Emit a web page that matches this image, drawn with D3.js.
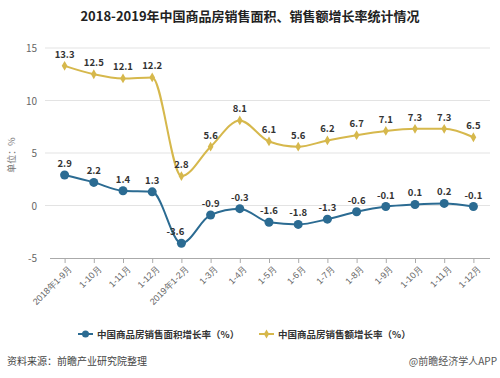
<!DOCTYPE html>
<html>
<head>
<meta charset="utf-8">
<script src="https://cdn.jsdelivr.net/npm/d3@7"></script>
<style>
  body { margin: 0; background: #fff; }
  svg { font-family: "Noto Sans CJK SC", "Noto Sans", sans-serif; }
</style>
</head>
<body>
<svg id="chart" width="500" height="378"></svg>
<script>
const months = ['2018年1-9月', '1-10月', '1-11月', '1-12月', '2019年1-2月', '1-3月', '1-4月', '1-5月',
  '1-6月', '1-7月', '1-8月', '1-9月', '1-10月', '1-11月', '1-12月'];
const areaGrowth = [2.9, 2.2, 1.4, 1.3, -3.6, -0.9, -0.3, -1.6, -1.8, -1.3, -0.6, -0.1, 0.1, 0.2, -0.1];
const salesGrowth = [13.3, 12.5, 12.1, 12.2, 2.8, 5.6, 8.1, 6.1, 5.6, 6.2, 6.7, 7.1, 7.3, 7.3, 6.5];
const yTicks = [-5, 0, 5, 10, 15];
const seriesNames = ['中国商品房销售面积增长率（%）', '中国商品房销售额增长率（%）'];

const svg = d3.select('#chart');
const blue = '#2b6b92';
const gold = '#d6b84c';

// month labels repeat across years, so the scale works on indexes
const x = d3.scalePoint().domain(d3.range(months.length)).range([50, 488]).padding(0.5);
const y = d3.scaleLinear().domain([-5, 15]).range([258, 48]);

// title
svg.append('text')
  .attr('x', 250).attr('y', 21)
  .attr('text-anchor', 'middle')
  .style('font-size', '13px').style('font-weight', 'bold').style('fill', '#222')
  .text('2018-2019年中国商品房销售面积、销售额增长率统计情况');

// grid lines
svg.append('g').selectAll('line')
  .data(yTicks.filter(d => d > -5))
  .enter().append('line')
  .attr('x1', 45).attr('x2', 490)
  .attr('y1', d => y(d)).attr('y2', d => y(d))
  .attr('stroke', '#e3e3e3').attr('stroke-width', 1.2);

// y labels
svg.append('g').selectAll('text')
  .data(yTicks)
  .enter().append('text')
  .attr('x', 37).attr('y', d => y(d) + 4)
  .attr('text-anchor', 'end')
  .style('font-size', '10px').style('fill', '#666')
  .text(d => d);

svg.append('text')
  .attr('transform', 'translate(15,155) rotate(-90)')
  .attr('text-anchor', 'middle')
  .style('font-size', '9px').style('fill', '#777')
  .text('单位：%');

// x axis
const xAxis = svg.append('g')
  .attr('transform', `translate(0,${y(-5)})`)
  .call(d3.axisBottom(x).tickSize(5).tickSizeOuter(0).tickFormat(i => months[i]));
xAxis.select('.domain').attr('stroke', '#aaa').attr('d', 'M50,0.5H490');
xAxis.selectAll('.tick line').attr('stroke', '#aaa');
xAxis.selectAll('.tick text')
  .attr('transform', 'rotate(-45)')
  .attr('text-anchor', 'end')
  .attr('dx', '-0.3em').attr('dy', '0.6em')
  .style('font-size', '9px').style('fill', '#666');

const line = d3.line()
  .x((d, i) => x(i))
  .y(d => y(d))
  .curve(d3.curveMonotoneX);

// sales line
svg.append('path').datum(salesGrowth)
  .attr('d', line).attr('fill', 'none')
  .attr('stroke', gold).attr('stroke-width', 2);
svg.append('g').selectAll('path')
  .data(salesGrowth)
  .enter().append('path')
  .attr('d', d3.symbol().type(d3.symbolDiamond).size(28))
  .attr('transform', (d, i) => `translate(${x(i)},${y(d)})`)
  .attr('fill', gold);

// area line
svg.append('path').datum(areaGrowth)
  .attr('d', line).attr('fill', 'none')
  .attr('stroke', blue).attr('stroke-width', 2);
svg.append('g').selectAll('circle')
  .data(areaGrowth)
  .enter().append('circle')
  .attr('cx', (d, i) => x(i))
  .attr('cy', d => y(d))
  .attr('r', 4.5)
  .attr('fill', blue);

// value labels
function labels(data) {
  svg.append('g').selectAll('text')
    .data(data)
    .enter().append('text')
    .attr('x', (d, i) => x(i) - (d === -3.6 ? 6 : 0))
    .attr('y', d => y(d) - 8)
    .attr('text-anchor', 'middle')
    .style('font-size', '9.5px').style('font-weight', 'bold').style('fill', '#333')
    .text(d => d.toFixed(1));
}
labels(salesGrowth);
labels(areaGrowth);

// legend
const legend = svg.append('g');
const legendItems = [
  { name: seriesNames[0], color: blue, x: 78 },
  { name: seriesNames[1], color: gold, x: 259 }
];
legendItems.forEach((d, i) => {
  const g = legend.append('g').attr('transform', `translate(${d.x},334)`);
  g.append('line').attr('x1', 0).attr('x2', 15).attr('stroke', d.color).attr('stroke-width', 2);
  if (i === 0) g.append('circle').attr('cx', 7.5).attr('r', 3.5).attr('fill', d.color);
  else g.append('path').attr('d', d3.symbol().type(d3.symbolDiamond).size(24)).attr('transform', 'translate(7.5,0)').attr('fill', d.color);
  g.append('text').attr('x', 19).attr('y', 3.5)
    .style('font-size', '9.5px').style('font-weight', 'bold').style('fill', '#333')
    .text(d.name);
});

// footer
svg.append('text')
  .attr('x', 7).attr('y', 365)
  .style('font-size', '10px').style('fill', '#444')
  .text('资料来源：前瞻产业研究院整理');
svg.append('text')
  .attr('x', 497).attr('y', 365)
  .attr('text-anchor', 'end')
  .style('font-size', '10px').style('fill', '#555')
  .text('@前瞻经济学人APP');
</script>
</body>
</html>
